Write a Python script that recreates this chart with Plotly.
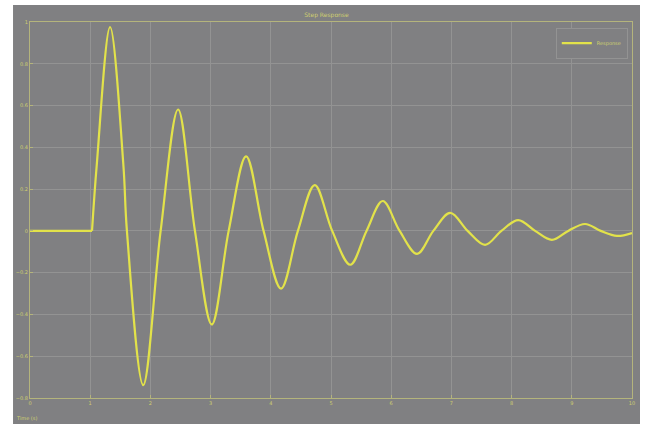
import plotly.graph_objects as go

# values
flat_t = [0.0, 1.03]
flat_y = [0.0, 0.0]
time_s = [1.03, 1.11, 1.33, 1.55, 1.61, 1.88, 2.17, 2.46, 2.74, 3.02, 3.30, 3.59, 3.88,
          4.17, 4.45, 4.73, 5.02, 5.32, 5.59, 5.86, 6.14, 6.43, 6.70, 6.98, 7.27, 7.56, 7.83,
          8.11, 8.39, 8.67, 8.94, 9.22, 9.48, 9.75, 10.0]
response = [0.0, 0.32, 0.976, 0.32, 0.0, -0.738, 0.0, 0.581, 0.0, -0.448, 0.0, 0.357, 0.0,
            -0.276, 0.0, 0.219, 0.0, -0.162, 0.0, 0.143, 0.0, -0.110, 0.0, 0.086, 0.0, -0.067, 0.0,
            0.052, 0.0, -0.043, 0.0, 0.033, 0.0, -0.024, -0.01]
x_ticks = [0, 1, 2, 3, 4, 5, 6, 7, 8, 9, 10]
y_ticks = [-0.8, -0.6, -0.4, -0.2, 0.0, 0.2, 0.4, 0.6, 0.8, 1.0]

BG = "#808082"
GRID = "#939393"
AXIS = "#b4b47c"
LINE = "#e2e24a"
TXT = "#cfcf70"

fig = go.Figure()
fig.add_trace(go.Scatter(x=flat_t, y=flat_y, mode="lines", name="Response", legendgroup="r",
                         showlegend=False, line=dict(color=LINE, width=2.2)))
fig.add_trace(go.Scatter(x=time_s, y=response, mode="lines", name="Response", legendgroup="r",
                         line=dict(color=LINE, width=2.2, shape="spline", smoothing=1.0)))

fig.update_layout(
    width=653, height=424,
    margin=dict(l=30, r=21, t=22, b=26),
    paper_bgcolor="white", plot_bgcolor=BG,
    font=dict(family="DejaVu Sans", size=5, color=TXT),
    title=dict(text="Step Response", x=0.5, xanchor="center", y=0.965, yanchor="middle",
               font=dict(size=6, color=TXT)),
    showlegend=True,
    legend=dict(x=0.993, y=0.985, xanchor="right", yanchor="top", bgcolor=BG,
                bordercolor=GRID, borderwidth=1, font=dict(size=5, color=TXT),
                itemwidth=30, tracegroupgap=0),
    shapes=[dict(type="rect", xref="paper", yref="paper", x0=-0.0282, x1=1.0133,
                 y0=-0.08, y1=1.045, fillcolor=BG, line=dict(width=0), layer="below")],
    annotations=[dict(text="Time (s)", xref="paper", yref="paper", x=-0.027, y=-0.052,
                      xanchor="left", yanchor="middle", showarrow=False,
                      font=dict(size=5, color=TXT))],
)
fig.update_xaxes(range=[0, 10], tickvals=x_ticks, showgrid=True, gridcolor=GRID, gridwidth=1,
                 showline=True, linecolor=AXIS, linewidth=1.2, mirror=True, zeroline=False,
                 ticks="inside", ticklen=3, tickcolor=AXIS, tickfont=dict(size=5, color=TXT))
fig.update_yaxes(range=[-0.8, 1.0], tickvals=y_ticks, showgrid=True, gridcolor=GRID, gridwidth=1,
                 showline=True, linecolor=AXIS, linewidth=1.2, mirror=True, zeroline=False,
                 ticks="inside", ticklen=3, tickcolor=AXIS, tickfont=dict(size=5, color=TXT))

fig.write_html("out.html", config={"displayModeBar": False},
               post_script="document.body.style.margin='0';")
